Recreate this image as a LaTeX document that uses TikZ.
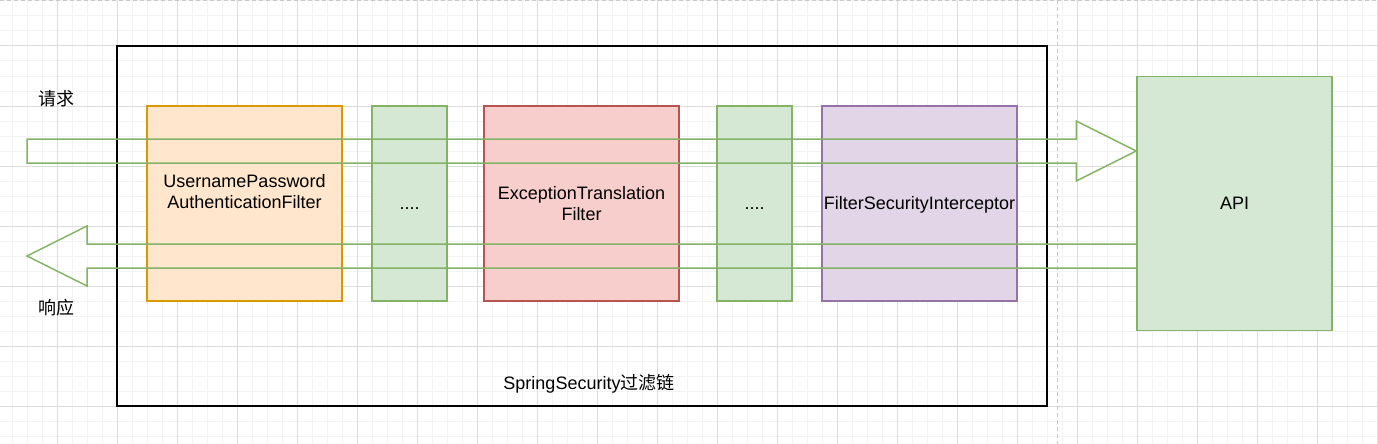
\documentclass[tikz,border=0pt]{standalone}
\usepackage{fontspec}
\setmainfont{Liberation Sans}
\newfontfamily\cjk{Noto Sans CJK SC}
\usetikzlibrary{calc}
\definecolor{orfill}{HTML}{FFE6CC}\definecolor{orline}{HTML}{D79B00}
\definecolor{grfill}{HTML}{D5E8D4}\definecolor{grline}{HTML}{82B366}
\definecolor{rdfill}{HTML}{F8CECC}\definecolor{rdline}{HTML}{B85450}
\definecolor{pufill}{HTML}{E1D5E7}\definecolor{puline}{HTML}{9673A6}
\definecolor{gridminor}{HTML}{F3F3F3}\definecolor{gridmajor}{HTML}{DCDCDC}
\definecolor{pageline}{HTML}{C8C8C8}
\tikzset{
  basefont/.style={font=\fontsize{18}{21.6}\selectfont},
  filterbox/.style={draw, line width=1.5pt, minimum width=195pt, minimum height=195pt, inner sep=0pt, align=center, basefont},
  dotbox/.style={filterbox, minimum width=75pt, fill=grfill, draw=grline},
  oneline/.style={text height=12.9pt, text depth=0pt},
  flexarrow/.style={draw=grline, line width=1.5pt, line join=miter},
  plain/.style={inner sep=0pt, basefont, align=center},
}
\begin{document}
\begin{tikzpicture}[x=1pt,y=-1pt]
\useasboundingbox (0,0) rectangle (1378,444);
\fill[white] (0,0) rectangle (1378,444);
% grid
\foreach \x in {-3,12,...,1380} \draw[gridminor, line width=1pt] (\x,0) -- (\x,444);
\foreach \y in {1,16,...,444} \draw[gridminor, line width=1pt] (0,\y) -- (1378,\y);
\foreach \x in {57,117,...,1380} \draw[gridmajor, line width=1pt] (\x,0) -- (\x,444);
\foreach \y in {46,106,...,444} \draw[gridmajor, line width=1pt] (0,\y) -- (1378,\y);
% page break lines
\draw[pageline, line width=1.2pt, dash pattern=on 4pt off 3pt] (0,0.8) -- (1378,0.8);
\draw[pageline, line width=1.2pt, dash pattern=on 4pt off 3pt] (1057.5,0) -- (1057.5,444);
% chain frame
\node[draw=black, line width=1.5pt, minimum width=930pt, minimum height=360pt, inner sep=0pt] (chain) at (582,226) {};
\node[plain, oneline] (chainlabel) at (589,383.5) {SpringSecurity{\cjk 过滤链}};
% filters
\node[filterbox, fill=orfill, draw=orline] (upaf) at (244.5,203.5) {};
\node[plain] (upaftext) at (244.5,191.5) {UsernamePassword\\AuthenticationFilter};
\node[dotbox, oneline] (dots1) at (409.5,203.5) {....};
\node[filterbox, fill=rdfill, draw=rdline] (etf) at (581.5,203.5) {ExceptionTranslation\\Filter};
\node[dotbox, oneline] (dots2) at (754.5,203.5) {....};
\node[filterbox, oneline, fill=pufill, draw=puline] (fsi) at (919.5,203.5) {FilterSecurityInterceptor};
% API
\node[filterbox, oneline, fill=grfill, draw=grline, minimum height=254pt] (api) at (1234.5,203.5) {API};
% request arrow
\coordinate (reqL) at (27,151);
\coordinate (reqR) at (api.west |- reqL);
\draw[flexarrow] ($(reqL)+(0,-12)$) -- ($(reqR)+(-60,-12)$) -- ($(reqR)+(-60,-30)$) -- (reqR)
  -- ($(reqR)+(-60,30)$) -- ($(reqR)+(-60,12)$) -- ($(reqL)+(0,12)$) -- cycle;
% response arrow
\coordinate (resL) at (27,256);
\coordinate (resR) at (api.west |- resL);
\draw[flexarrow] ($(resR)+(0,-12)$) -- ($(resL)+(60,-12)$) -- ($(resL)+(60,-30)$) -- (resL)
  -- ($(resL)+(60,30)$) -- ($(resL)+(60,12)$) -- ($(resR)+(0,12)$);
% labels
\node[plain] (reqlabel) at (56,98.5) {\cjk 请求};
\node[plain] (reslabel) at (56,307.5) {\cjk 响应};
\end{tikzpicture}
\end{document}
